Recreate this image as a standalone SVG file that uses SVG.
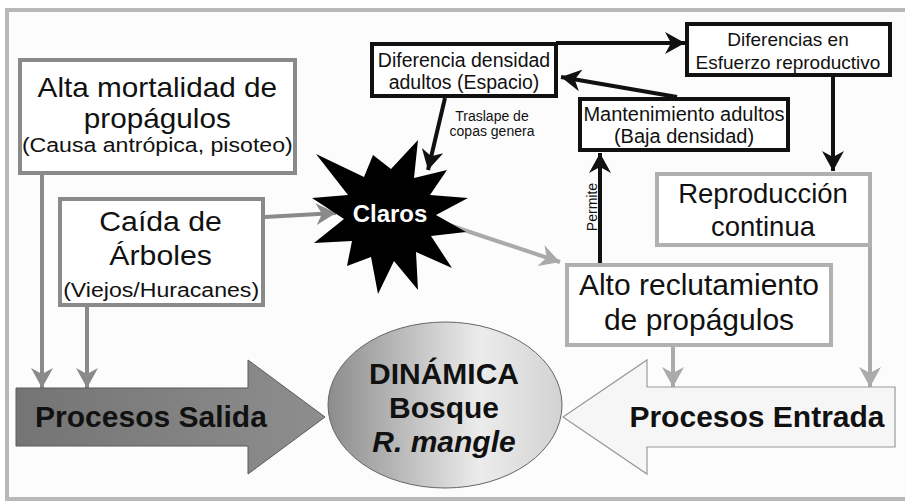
<svg xmlns="http://www.w3.org/2000/svg" width="905" height="502" viewBox="0 0 905 502">
<defs>
<style>
text{font-family:"Liberation Sans",Arial,sans-serif;fill:#111;text-anchor:middle}
.gb{fill:#fff;stroke:#8a8a8a;stroke-width:4}
.lb{fill:#fff;stroke:#b0b0b0;stroke-width:4}
.bb{fill:#fff;stroke:#111;stroke-width:4}
.gl{stroke:#8a8a8a;stroke-width:4;fill:none;marker-end:url(#ag)}
.ll{stroke:#aaaaaa;stroke-width:4;fill:none;marker-end:url(#al)}
.bl{stroke:#111;stroke-width:4;fill:none;marker-end:url(#ab)}
.big{font-size:30px;font-weight:bold}
</style>
<marker id="ag" viewBox="0 0 20 22" refX="20" refY="11" markerWidth="20" markerHeight="22" markerUnits="userSpaceOnUse" orient="auto"><path d="M0,0 L20,11 L0,22 L6,11 Z" fill="#8a8a8a"/></marker>
<marker id="al" viewBox="0 0 20 22" refX="20" refY="11" markerWidth="20" markerHeight="22" markerUnits="userSpaceOnUse" orient="auto"><path d="M0,0 L20,11 L0,22 L6,11 Z" fill="#aaaaaa"/></marker>
<marker id="ab" viewBox="0 0 20 22" refX="20" refY="11" markerWidth="20" markerHeight="22" markerUnits="userSpaceOnUse" orient="auto"><path d="M0,0 L20,11 L0,22 L6,11 Z" fill="#111"/></marker>
<linearGradient id="gs" x1="0" y1="0" x2="1" y2="0"><stop offset="0" stop-color="#747474"/><stop offset="1" stop-color="#8e8e8e"/></linearGradient>
<linearGradient id="ge" x1="0" y1="0" x2="1" y2="0"><stop offset="0" stop-color="#8c8c8c"/><stop offset="0.65" stop-color="#ececec"/><stop offset="1" stop-color="#d2d2d2"/></linearGradient>
</defs>
<rect width="905" height="502" fill="#fff"/>
<rect x="7" y="10" width="910" height="489" fill="#fcfcfc" stroke="#b8b8b8" stroke-width="4"/>

<g id="connectors">
<line class="gl" x1="42" y1="175" x2="42" y2="388"/>
<line class="gl" x1="87" y1="307" x2="87" y2="388"/>
<line class="gl" x1="265" y1="217" x2="336" y2="213"/>
<line class="ll" x1="440" y1="222" x2="560" y2="262"/>
<line class="ll" x1="673" y1="347" x2="673" y2="387"/>
<line class="ll" x1="870" y1="247" x2="870" y2="387"/>
<line class="bl" x1="556" y1="43" x2="685" y2="43"/>
<line class="bl" x1="833" y1="77" x2="833" y2="171"/>
<line class="bl" x1="677" y1="97" x2="561" y2="77"/>
<line class="bl" x1="600" y1="263" x2="600" y2="153"/>
<line class="bl" x1="445" y1="98" x2="428" y2="170"/>
<text x="492" y="121" style="font-size:14px">Traslape de</text>
<text x="492" y="136" style="font-size:14px">copas genera</text>
<text x="597" y="207" transform="rotate(-90 597 207)" style="font-size:14px">Permite</text>
</g>

<g id="alta">
<rect class="gb" x="20" y="60" width="275" height="113"/>
<g transform="scale(1.1 1)">
<text x="143" y="97" style="font-size:27px">Alta mortalidad de</text>
<text x="143" y="128" style="font-size:27px">propágulos</text>
<text x="143" y="152" style="font-size:21px">(Causa antrópica, pisoteo)</text>
</g>
</g>

<g id="caida">
<rect class="gb" x="60" y="199" width="203" height="106"/>
<g transform="scale(1.1 1)">
<text x="146" y="231" style="font-size:27.5px">Caída de</text>
<text x="146" y="265" style="font-size:27.5px">Árboles</text>
<text x="146.5" y="297" style="font-size:21px">(Viejos/Huracanes)</text>
</g>
</g>

<g id="claros">
<polygon fill="#000" points="418,140 414,178 447,170 430,195 468,198 436,215 466,232 431,236 452,268 416,252 418,290 394,261 378,294 371,257 347,266 352,241 314,243 344,219 312,198 348,195 316,154 364,177 373,155 391,169"/>
<text x="390" y="222" style="font-size:24px;font-weight:bold;fill:#fff">Claros</text>
</g>

<g id="alto">
<rect class="lb" x="567" y="265" width="264" height="80"/>
<text x="699" y="295" style="font-size:30px">Alto reclutamiento</text>
<text x="699" y="330" style="font-size:30px">de propágulos</text>
</g>

<g id="reproduccion">
<rect class="lb" x="657" y="174" width="213" height="71"/>
<text x="763" y="203" style="font-size:27.5px">Reproducción</text>
<text x="763" y="236" style="font-size:27.5px">continua</text>
</g>

<g id="diferencias">
<rect class="bb" x="687" y="24" width="203" height="51"/>
<text x="788" y="46" style="font-size:19px">Diferencias en</text>
<text x="788" y="69" style="font-size:19px">Esfuerzo reproductivo</text>
</g>

<g id="diferencia">
<rect class="bb" x="372" y="44" width="184" height="52"/>
<text x="464" y="67" style="font-size:19.5px">Diferencia densidad</text>
<text x="464" y="89" style="font-size:19.5px">adultos (Espacio)</text>
</g>

<g id="mantenimiento">
<rect class="bb" x="580" y="99" width="208" height="51"/>
<text x="684" y="121" style="font-size:20px">Mantenimiento adultos</text>
<text x="684" y="143" style="font-size:20px">(Baja densidad)</text>
</g>

<g id="salida">
<polygon points="16,388 248,388 248,360 325,417 248,474 248,446 16,446" fill="url(#gs)" stroke="#5a5a5a" stroke-width="1"/>
<text class="big" x="151" y="427">Procesos Salida</text>
</g>

<g id="entrada">
<polygon points="895,387 647,387 647,360 563,417 647,474 647,447 895,447" fill="#f6f6f6" stroke="#999" stroke-width="1.2"/>
<text class="big" x="757" y="427">Procesos Entrada</text>
</g>

<g id="dinamica">
<ellipse cx="445" cy="405" rx="117" ry="83" fill="url(#ge)" stroke="#666" stroke-width="1"/>
<text class="big" x="444" y="384">DINÁMICA</text>
<text class="big" x="444" y="418">Bosque</text>
<text class="big" x="444" y="452" style="font-style:italic">R. mangle</text>
</g>
</svg>
